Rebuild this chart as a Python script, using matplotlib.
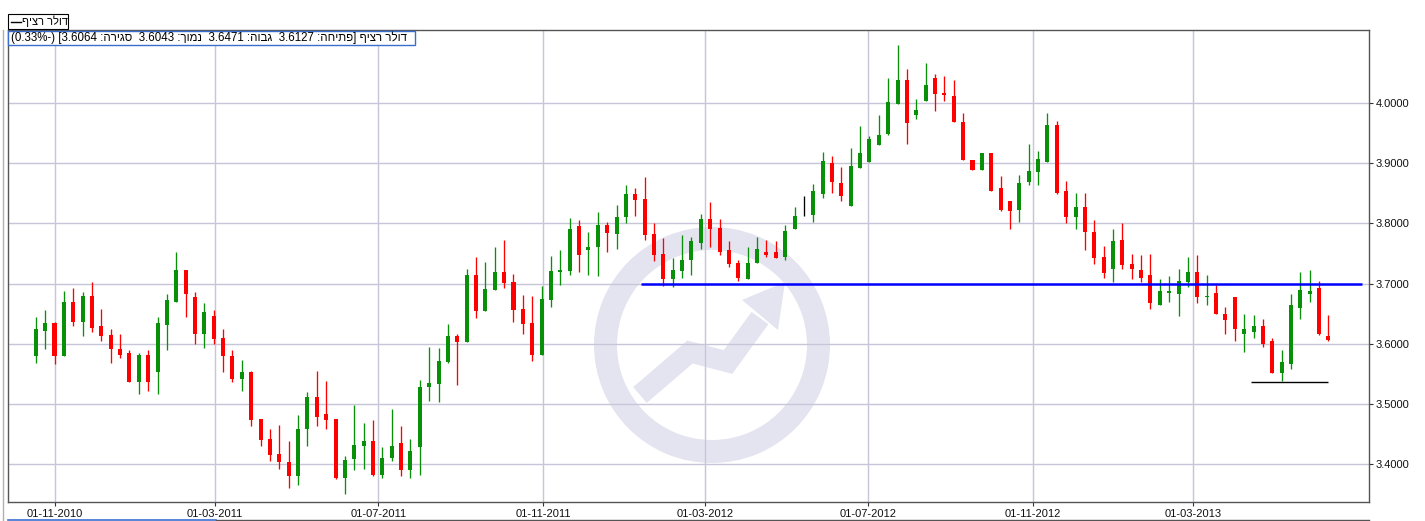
import numpy as np
import pandas as pd
import matplotlib
matplotlib.use("Agg")
import matplotlib.pyplot as plt
import matplotlib.dates as mdates
from matplotlib.patches import Wedge, Polygon, Rectangle
from matplotlib.lines import Line2D

# ---------------- data (weekly USD/ILS candles) ----------------
first_week = "2010-10-18"
open_ = [3.579, 3.622, 3.634, 3.580, 3.670, 3.637, 3.680, 3.629, 3.614, 3.592,
         3.584, 3.536, 3.582, 3.554, 3.632, 3.670, 3.722, 3.677, 3.616, 3.647,
         3.609, 3.580, 3.541, 3.553, 3.475, 3.442, 3.417, 3.404, 3.380, 3.458,
         3.512, 3.484, 3.475, 3.378, 3.408, 3.431, 3.439, 3.383, 3.411, 3.436,
         3.390, 3.429, 3.528, 3.533, 3.570, 3.613, 3.603, 3.714, 3.655, 3.690,
         3.719, 3.703, 3.658, 3.634, 3.582, 3.673, 3.719, 3.721, 3.795, 3.755,
         3.760, 3.798, 3.783, 3.810, 3.849, 3.841, 3.782, 3.749, 3.707, 3.721,
         3.739, 3.768, 3.808, 3.792, 3.755, 3.734, 3.707, 3.734, 3.753, 3.753,
         3.744, 3.790, 3.815, 3.814, 3.849, 3.900, 3.867, 3.829, 3.892, 3.902,
         3.930, 3.949, 3.998, 4.038, 3.980, 4.003, 4.042, 4.016, 4.012, 3.968,
         3.905, 3.888, 3.917, 3.859, 3.837, 3.823, 3.868, 3.886, 3.902, 3.963,
         3.854, 3.811, 3.827, 3.786, 3.744, 3.725, 3.773, 3.733, 3.722, 3.715,
         3.665, 3.685, 3.683, 3.703, 3.720, 3.677, 3.685, 3.650, 3.678, 3.617,
         3.619, 3.630, 3.604, 3.552, 3.567, 3.660, 3.682, 3.692, 3.6127]
high = [3.645, 3.657, 3.636, 3.687, 3.692, 3.686, 3.702, 3.658, 3.625, 3.617,
        3.590, 3.584, 3.590, 3.645, 3.683, 3.753, 3.722, 3.686, 3.667, 3.657,
        3.625, 3.590, 3.573, 3.555, 3.475, 3.459, 3.465, 3.439, 3.482, 3.520,
        3.555, 3.539, 3.475, 3.414, 3.499, 3.468, 3.474, 3.429, 3.492, 3.463,
        3.442, 3.540, 3.595, 3.593, 3.633, 3.617, 3.724, 3.744, 3.736, 3.761,
        3.772, 3.716, 3.681, 3.679, 3.696, 3.746, 3.756, 3.809, 3.805, 3.786,
        3.819, 3.803, 3.831, 3.864, 3.859, 3.877, 3.801, 3.775, 3.742, 3.780,
        3.778, 3.815, 3.835, 3.807, 3.770, 3.740, 3.760, 3.777, 3.772, 3.770,
        3.797, 3.827, 3.846, 3.865, 3.919, 3.912, 3.894, 3.925, 3.962, 3.945,
        3.980, 4.042, 4.096, 4.056, 4.007, 4.066, 4.048, 4.045, 4.038, 3.983,
        3.905, 3.917, 3.917, 3.879, 3.837, 3.880, 3.932, 3.920, 3.983, 3.970,
        3.870, 3.850, 3.850, 3.806, 3.763, 3.790, 3.801, 3.750, 3.747, 3.750,
        3.707, 3.713, 3.725, 3.745, 3.747, 3.715, 3.698, 3.662, 3.678, 3.650,
        3.648, 3.642, 3.610, 3.590, 3.682, 3.720, 3.723, 3.705, 3.6471]
low = [3.568, 3.591, 3.567, 3.580, 3.630, 3.613, 3.619, 3.605, 3.569, 3.577,
       3.536, 3.517, 3.521, 3.516, 3.589, 3.669, 3.644, 3.600, 3.593, 3.600,
       3.554, 3.536, 3.522, 3.463, 3.431, 3.406, 3.392, 3.361, 3.366, 3.431,
       3.463, 3.458, 3.375, 3.351, 3.390, 3.393, 3.381, 3.378, 3.406, 3.381,
       3.378, 3.383, 3.505, 3.503, 3.569, 3.532, 3.603, 3.643, 3.655, 3.690,
       3.693, 3.637, 3.617, 3.572, 3.582, 3.661, 3.698, 3.714, 3.719, 3.714,
       3.712, 3.753, 3.758, 3.801, 3.813, 3.772, 3.737, 3.696, 3.695, 3.710,
       3.714, 3.757, 3.760, 3.747, 3.727, 3.705, 3.707, 3.734, 3.744, 3.742,
       3.740, 3.790, 3.813, 3.802, 3.842, 3.850, 3.837, 3.829, 3.892, 3.902,
       3.930, 3.947, 3.998, 3.932, 3.973, 4.003, 3.987, 4.003, 3.968, 3.905,
       3.888, 3.888, 3.853, 3.821, 3.790, 3.803, 3.863, 3.863, 3.902, 3.848,
       3.800, 3.790, 3.756, 3.733, 3.710, 3.702, 3.725, 3.708, 3.703, 3.658,
       3.665, 3.670, 3.647, 3.695, 3.667, 3.665, 3.649, 3.617, 3.604, 3.587,
       3.609, 3.594, 3.552, 3.539, 3.559, 3.642, 3.670, 3.614, 3.6043]
close = [3.624, 3.634, 3.580, 3.670, 3.637, 3.680, 3.627, 3.613, 3.591, 3.582,
         3.536, 3.582, 3.536, 3.634, 3.672, 3.722, 3.682, 3.616, 3.653, 3.608,
         3.579, 3.541, 3.553, 3.474, 3.441, 3.416, 3.403, 3.380, 3.459, 3.512,
         3.478, 3.474, 3.378, 3.407, 3.432, 3.439, 3.383, 3.411, 3.431, 3.390,
         3.422, 3.529, 3.535, 3.572, 3.613, 3.603, 3.714, 3.655, 3.691, 3.719,
         3.701, 3.657, 3.633, 3.582, 3.674, 3.721, 3.722, 3.790, 3.747, 3.761,
         3.798, 3.784, 3.811, 3.849, 3.839, 3.780, 3.747, 3.708, 3.722, 3.740,
         3.770, 3.808, 3.790, 3.753, 3.732, 3.709, 3.735, 3.757, 3.747, 3.742,
         3.787, 3.813, 3.815, 3.854, 3.904, 3.869, 3.846, 3.895, 3.917, 3.940,
         3.947, 4.002, 4.038, 3.967, 3.988, 4.030, 4.015, 4.013, 3.968, 3.905,
         3.888, 3.917, 3.854, 3.823, 3.821, 3.867, 3.887, 3.907, 3.963, 3.851,
         3.811, 3.827, 3.785, 3.743, 3.718, 3.770, 3.731, 3.725, 3.710, 3.668,
         3.687, 3.688, 3.705, 3.720, 3.677, 3.680, 3.649, 3.640, 3.624, 3.624,
         3.630, 3.600, 3.552, 3.570, 3.665, 3.690, 3.687, 3.617, 3.6064]

y_ticks = [3.4, 3.5, 3.6, 3.7, 3.8, 3.9, 4.0]
x_tick_dates = ["2010-11-01", "2011-03-01", "2011-07-01", "2011-11-01",
                "2012-03-01", "2012-07-01", "2012-11-01", "2013-03-01"]

# user-drawn lines
blue_line_dates = ["2012-01-13", "2013-07-05"]
blue_line_level = 3.7
black_line_dates = ["2013-04-13", "2013-06-10"]
black_line_level = 3.537

series_name = "דולר רציף"
info_labels = ["פתיחה", "גבוה", "נמוך", "סגירה"]
info_values = [3.6127, 3.6471, 3.6043, 3.6064]
info_change_pct = -0.33

# ---------------- figure ----------------
W, H = 1425, 521
fig = plt.figure(figsize=(W / 100, H / 100), dpi=100, facecolor="white")
plt.rcParams['font.family'] = ['Liberation Sans', 'DejaVu Sans']

L, R, T, B = 8, 1369, 30, 502
ax = fig.add_axes([L / W, 1 - B / H, (R - L) / W, (B - T) / H])
ax.set_facecolor("white")

GREEN = "#089008"
RED = "#ff0000"
GRID = "#c6c6d8"

dates = pd.date_range(first_week, periods=len(close), freq="7D")
xd = mdates.date2num(dates)
o = np.array(open_); h = np.array(high); lo = np.array(low); c = np.array(close)
cols = np.where(c > o, GREEN, np.where(c < o, RED, "#000000"))

ax.vlines(xd, lo, h, colors=cols, lw=0.95, zorder=3)
body_bottom = np.minimum(o, c)
body_h = np.maximum(np.abs(c - o), 0.0012)
ax.bar(xd, body_h, bottom=body_bottom, width=3.0, color=cols, lw=0, zorder=3)

# user lines
ax.plot(mdates.date2num(pd.to_datetime(blue_line_dates)), [blue_line_level] * 2,
        color="#0000ff", lw=1.8, zorder=4, solid_capstyle="butt")
ax.plot(mdates.date2num(pd.to_datetime(black_line_dates)), [black_line_level] * 2,
        color="#000000", lw=1.0, zorder=4, solid_capstyle="butt")

# axes limits
x0 = mdates.date2num(pd.Timestamp("2010-11-01")) - 34.75
x1 = mdates.date2num(pd.Timestamp("2013-03-01")) + 131.3
ax.set_xlim(x0, x1)
ax.set_ylim(3.3374, 4.1211)

# ticks
ax.yaxis.tick_right()
ax.set_yticks(y_ticks)
ax.set_yticklabels([f"{v:.4f}" for v in y_ticks])
xt = mdates.date2num(pd.to_datetime(x_tick_dates))
ax.set_xticks(xt)
ax.set_xticklabels([pd.Timestamp(d).strftime("%d-%m-%Y") for d in x_tick_dates])
ax.tick_params(axis="both", labelsize=8, colors="#333333", length=3, width=0.8,
               direction="out", pad=2, labelcolor="#111111")
ax.grid(True, color=GRID, lw=1.0)
ax.set_axisbelow(True)
for s in ax.spines.values():
    s.set_color("#555555")
    s.set_linewidth(1.0)

# watermark logo (pixel coords -> inches)
def pin(px, py):
    return (px / 100.0, (H - py) / 100.0)

WM = "#e4e4f1"
ring = Wedge(pin(712, 345), 1.18, 0, 360, width=0.23, transform=fig.dpi_scale_trans,
             facecolor=WM, edgecolor="none", zorder=0.3)
ax.add_patch(ring)
arrow_pts = [pin(640, 395), pin(690, 352), pin(728, 362), pin(760, 318)]
ax.add_line(Line2D([p[0] for p in arrow_pts], [p[1] for p in arrow_pts],
                   transform=fig.dpi_scale_trans, color=WM, lw=15,
                   solid_capstyle="butt", solid_joinstyle="miter", zorder=0.3))
head = Polygon([pin(742, 300), pin(785, 282), pin(778, 330)], closed=True,
               transform=fig.dpi_scale_trans, facecolor=WM, edgecolor="none", zorder=0.3)
ax.add_patch(head)

# ---------------- header boxes ----------------
def fx(px):
    return px / W

def fy(py):
    return 1 - py / H

# Hebrew is drawn in visual (right-to-left) order
def rtl(s):
    return s[::-1]

# legend box
fig.add_artist(Rectangle((fx(8), fy(29)), (68 - 8) / W, (29 - 14) / H,
                         transform=fig.transFigure, facecolor="white",
                         edgecolor="#000000", lw=0.8, zorder=5))
fig.add_artist(Line2D([fx(11), fx(21)], [fy(21.5), fy(21.5)],
                      transform=fig.transFigure, color="#000000", lw=1.0, zorder=6))
fig.text(fx(22), fy(21.5), rtl(series_name), ha="left", va="center",
         fontsize=8, color="#000000", zorder=6)

# info box
fig.add_artist(Rectangle((fx(8), fy(45)), (415 - 8) / W, (45 - 31) / H,
                         transform=fig.transFigure, facecolor="white",
                         edgecolor="#3a6fd0", lw=1.0, zorder=5))
parts = "  ".join(f"{v:.4f} :{rtl(lab)}" for lab, v in
                  reversed(list(zip(info_labels, info_values))))
sign = "-" if info_change_pct < 0 else ""
info_text = f"({abs(info_change_pct):.2f}%{sign}) [{parts}] {rtl(series_name)}"
fig.text(fx(11), fy(38), info_text, ha="left", va="center", fontsize=8.3,
         color="#000000", zorder=6)

# frame decorations
fig.add_artist(Line2D([fx(2.5), fx(2.5)], [fy(30), fy(521)], transform=fig.transFigure,
                      color="#b0b0b0", lw=1.0))
fig.add_artist(Line2D([fx(8), fx(216)], [fy(519.5), fy(519.5)], transform=fig.transFigure,
                      color="#3a6fd0", lw=1.2))
fig.add_artist(Line2D([fx(216), fx(1369)], [fy(519.5), fy(519.5)], transform=fig.transFigure,
                      color="#555555", lw=1.0))

fig.savefig("out.png", dpi=100, facecolor="white")
